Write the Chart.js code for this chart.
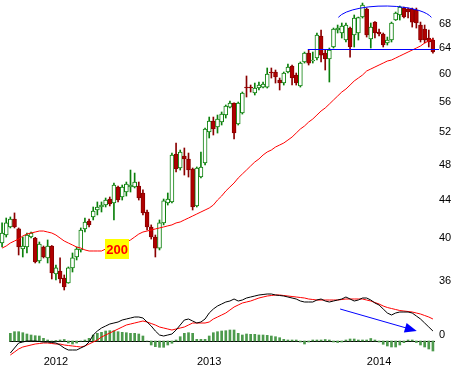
<!DOCTYPE html>
<html>
<head>
<meta charset="utf-8">
<script src="https://cdn.jsdelivr.net/npm/chart.js@4.4.1/dist/chart.umd.min.js"></script>
<style>
html, body { margin: 0; padding: 0; background: #fff; }
canvas { display: block; }
</style>
</head>
<body>
<canvas id="chart" width="453" height="373"></canvas>
<script>
// WEEKLY CANDLES (105 weeks)
const opens = [39.54,40.33,41.14,41.96,40.94,38.96,39.15,40.13,40.03,37.83, 39.15,38.11,39.25,36.63,36.90,36.27,35.83,37.18,38.20,38.87,
    40.94,41.75,42.17,42.90,43.22,43.43,44.08,43.65,45.41,44.30, 44.85,45.41,45.41,45.52,44.74,42.69,41.14,40.13,39.05,41.55,
    43.65,43.76,49.26,47.59,49.02,48.66,47.47,43.33,46.54,48.18, 52.01,53.45,52.66,53.31,54.24,55.32,55.87,53.05,54.51,58.12,
    58.12,57.27,57.98,58.12,58.12,60.32,60.32,59.14,58.70,60.32, 61.22,59.87,58.27,61.83,63.21,61.98,62.44,65.93,63.21,62.29,
    64.16,66.91,66.42,65.28,67.24,66.09,66.42,69.09,70.47,65.44, 68.24,66.58,66.25,64.80,65.28,68.58,69.44,70.64,70.47,70.47,
    70.30,67.74,67.07,65.60,65.28];
const highs = [41.55,42.06,42.17,42.59,41.04,40.13,40.53,40.63,40.10,39.64, 39.25,39.84,39.30,37.45,38.11,36.54,37.27,38.58,39.15,41.04,
    42.06,41.96,43.22,43.76,43.76,44.19,44.30,45.86,45.52,45.63, 45.97,47.35,47.00,45.97,45.08,42.90,41.35,40.33,41.86,44.08,
    44.74,49.38,50.62,49.75,50.00,49.38,47.59,47.71,49.51,52.53, 53.97,53.97,54.24,54.65,55.60,56.15,55.90,56.01,57.41,59.73,
    58.41,58.70,58.85,58.85,60.92,60.92,60.62,59.43,60.32,61.52, 61.37,60.17,61.83,63.37,63.68,63.37,66.42,66.91,63.68,64.00,
    67.24,67.74,68.08,68.08,67.40,69.44,69.09,71.52,70.64,68.08, 68.30,67.07,66.42,65.76,68.24,69.95,70.99,70.82,70.64,70.64,
    70.64,68.24,67.74,66.91,65.60];
const lows = [39.15,40.13,41.04,41.04,38.39,38.20,38.58,40.03,37.64,37.64, 38.11,37.64,36.18,36.09,35.83,35.21,35.80,36.81,37.92,38.67,
    40.63,41.14,41.86,42.38,42.69,43.22,43.33,41.86,43.76,43.97, 44.41,44.85,45.30,43.97,42.38,40.83,39.93,38.20,38.87,41.35,
    43.43,43.65,47.12,47.35,46.77,46.54,42.90,43.22,46.43,47.94, 51.25,51.63,51.88,52.92,53.84,55.19,51.12,52.92,54.37,56.71,
    57.41,56.99,57.70,57.98,57.98,59.43,58.70,57.70,58.41,60.17, 58.41,58.41,58.12,61.67,61.37,61.67,62.13,61.83,60.62,58.85,
    64.00,66.42,65.60,64.96,62.59,64.16,65.28,68.92,65.76,64.00, 65.60,65.93,64.16,64.48,64.96,68.50,68.58,68.92,68.92,67.40,
    67.24,64.96,64.80,64.16,63.21];
const closes = [40.53,41.55,41.96,41.14,39.15,39.25,40.33,40.53,37.73,39.44, 38.20,39.25,36.72,37.18,36.18,35.47,37.18,38.11,38.96,40.83,
    41.65,41.35,42.79,43.22,43.43,43.97,43.54,45.63,43.97,45.41, 45.75,45.63,45.97,44.19,42.59,41.14,40.13,39.05,41.55,43.87,
    44.08,49.14,47.47,49.51,48.66,47.35,43.22,47.59,47.71,52.40, 53.45,52.40,53.71,54.37,55.46,55.87,51.88,55.87,57.27,57.98,
    57.98,57.98,58.41,58.56,60.02,60.17,59.58,58.70,60.17,61.07, 59.43,58.70,61.67,63.21,61.67,62.13,66.09,62.90,62.29,63.68,
    67.07,67.24,67.57,67.74,64.16,68.92,69.00,71.17,66.09,67.40, 66.42,66.25,64.48,65.28,68.08,69.78,70.82,69.09,69.95,68.24,
    68.08,65.28,65.28,64.96,63.37];

// 200 day moving average
const ma200 = [39.05,39.25,39.54,39.74,39.93,40.23,40.43,40.53,40.63,40.73, 40.73,40.63,40.53,40.33,40.03,39.74,39.54,39.35,39.15,39.05,
    38.87,38.77,38.77,38.77,38.77,38.96,39.05,39.15,39.25,39.44, 39.64,39.84,40.13,40.43,40.63,40.73,40.83,40.94,41.04,41.14,
    41.25,41.35,41.55,41.65,41.86,42.06,42.27,42.48,42.69,42.90, 43.11,43.43,43.97,44.41,44.96,45.41,45.86,46.43,46.89,47.35,
    47.83,48.30,48.66,49.14,49.51,49.75,50.12,50.37,50.62,50.99, 51.37,51.88,52.40,52.79,53.31,53.71,54.24,54.78,55.19,55.73,
    56.29,56.85,57.41,57.84,58.41,59.00,59.43,59.87,60.47,60.77, 61.07,61.37,61.67,61.98,62.13,62.44,62.75,63.06,63.37,63.68,
    64.00,64.32,64.80,65.12,65.44];

// MACD panel
const macd = [null,null,-1.2,-0.7,-0.2,-0.1,0,0,0,-0.05, -0.1,-0.1,-0.15,-0.2,-0.4,-0.7,-0.9,-0.9,-0.9,-0.7,
    -0.5,-0.1,0.6,1.0,1.3,1.5,1.7,1.8,1.9,2.1, 2.2,2.3,2.4,2.4,2.3,1.9,1.5,1.0,0.6,0.5,
    0.6,0.7,1.1,1.6,2.1,2.2,2.0,1.8,1.9,2.2, 2.8,3.2,3.5,3.7,3.9,4.0,4.2,4.0,4.1,4.3,
    4.4,4.5,4.6,4.65,4.7,4.7,4.6,4.55,4.5,4.4, 4.3,4.2,4.0,3.9,3.9,3.9,4.1,4.2,4.0,3.9,
    4.0,4.1,4.2,4.4,4.2,4.0,4.1,4.3,4.3,4.1, 3.8,3.6,3.2,2.8,2.6,2.8,2.9,2.9,2.9,2.8,
    2.5,2.2,1.8,1.4,1.0];
const signal = [null,null,-1.4,-1.1,-0.8,-0.6,-0.5,-0.4,-0.3,-0.25, -0.2,-0.2,-0.25,-0.3,-0.3,-0.4,-0.45,-0.5,-0.55,-0.6,
    -0.5,-0.3,-0.1,0.1,0.4,0.6,0.8,1.0,1.2,1.4, 1.6,1.7,1.8,1.9,2.0,1.9,1.75,1.6,1.4,1.3,
    1.2,1.1,1.2,1.3,1.4,1.6,1.8,1.8,1.8,1.8, 1.9,2.2,2.4,2.6,2.8,3.1,3.4,3.6,3.8,3.9,
    4.0,4.15,4.3,4.4,4.5,4.55,4.6,4.6,4.55,4.5, 4.45,4.4,4.35,4.3,4.2,4.15,4.1,4.1,4.1,4.1,
    4.1,4.1,4.15,4.2,4.2,4.2,4.2,4.2,4.1,4.0, 3.85,3.7,3.5,3.35,3.25,3.15,3.05,3.0,2.95,2.9,
    2.8,2.7,2.55,2.4,2.2];
const histogram = [null,null,0.77,0.93,0.93,0.83,0.7,0.6,0.53,0.5, 0.27,0.1,0,0.05,0.1,0.15,-0.2,-0.3,-0.2,0,
    0.1,0.27,0.6,0.77,0.87,1.0,1.03,1.03,0.93,0.87, 0.83,0.77,0.77,0.7,0.5,0,-0.4,-0.57,-0.63,-0.63,
    -0.4,-0.23,0.1,0.43,0.77,0.83,0.77,0.17,0.17,0.17, 0.5,0.83,0.93,1.0,1.03,1.1,1.1,0.77,0.6,0.7,
    0.67,0.67,0.6,0.6,0.57,0.5,0.43,0.33,0.17,0.1, 0.1,0.1,-0.1,-0.3,-0.1,0.1,0.1,0.1,0.15,0.1,
    -0.1,-0.15,-0.1,0.1,0.2,0.2,0.1,0.1,0.1,0.25, 0.1,-0.1,-0.33,-0.5,-0.6,-0.6,-0.4,-0.17,0.1,0.1,
    -0.15,-0.4,-0.6,-0.8,-1.0];

// axis labels
const priceTicks = [36, 40, 44, 48, 52, 56, 60, 64, 68];
const macdTicks = [0];
const yearLabels = ['2012', '2013', '2014'];
const yearWeeks = [13, 50, 91];

// annotations (in data units)
const supportLevel = 63.85;
const supportFrom = 73.8;
const topCentre = [92.4, 68.4];
const topHalfWidth = 11.6;
const topCeiling = 71.0;
const arrowFrom = [81.6, 3.2];
const arrowTo = [100.1, 1.0];
const maLabel = '200';
const maLabelAt = [27.75, 38.96];

const weeks = opens.map((o, i) => 'W' + (i + 1));
const isUp = opens.map((o, i) => closes[i] >= o);

Chart.defaults.font.family = '"Liberation Sans", Arial, sans-serif';
Chart.defaults.font.size = 11;
Chart.defaults.color = '#000';

// no automatic padding round the axes
function noPad(scale) {
    scale.paddingTop = 0;
    scale.paddingBottom = 0;
    scale.paddingLeft = 0;
    scale.paddingRight = 0;
}

const overlay = {
    id: 'overlay',
    afterLayout(chart) {
        // the macd axis has no width of its own, let its label draw over the price axis
        chart.scales.macd.right = chart.width;
    },
    beforeDatasetsDraw(chart) {
        const ctx = chart.ctx, sx = chart.scales.x, sm = chart.scales.macd;
        const y0 = Math.round(sm.getPixelForValue(0)) + 0.5;
        ctx.save();
        ctx.strokeStyle = '#000';
        ctx.lineWidth = 1;
        ctx.beginPath();
        ctx.moveTo(sx.getPixelForValue(2) - 1, y0);
        ctx.lineTo(chart.chartArea.right, y0);
        ctx.stroke();
        ctx.restore();
    },
    afterDatasetsDraw(chart) {
        const ctx = chart.ctx;
        const sx = chart.scales.x, sp = chart.scales.price, sm = chart.scales.macd;
        ctx.save();
        ctx.strokeStyle = '#0000ff';
        ctx.fillStyle = '#0000ff';
        ctx.lineWidth = 1;

        // support line
        const ys = Math.round(sp.getPixelForValue(supportLevel)) + 0.5;
        ctx.beginPath();
        ctx.moveTo(sx.getPixelForValue(supportFrom), ys);
        ctx.lineTo(chart.chartArea.right + 4, ys);
        ctx.stroke();

        // rounded top
        const cx = sx.getPixelForValue(topCentre[0]);
        const cy = sp.getPixelForValue(topCentre[1]);
        const rx = sx.getPixelForValue(topCentre[0] + topHalfWidth) - cx;
        const ry = cy - sp.getPixelForValue(topCeiling);
        ctx.beginPath();
        ctx.ellipse(cx, cy, rx, ry, 0, Math.PI + 0.25, 2 * Math.PI - 0.25);
        ctx.stroke();

        // divergence arrow
        const ax0 = sx.getPixelForValue(arrowFrom[0]), ay0 = sm.getPixelForValue(arrowFrom[1]);
        const ax1 = sx.getPixelForValue(arrowTo[0]), ay1 = sm.getPixelForValue(arrowTo[1]);
        const a = Math.atan2(ay1 - ay0, ax1 - ax0), c = Math.cos(a), s = Math.sin(a);
        ctx.beginPath();
        ctx.moveTo(ax0, ay0);
        ctx.lineTo(ax1 - 10 * c, ay1 - 10 * s);
        ctx.stroke();
        ctx.beginPath();
        ctx.moveTo(ax1, ay1);
        ctx.lineTo(ax1 - 12 * c - 5 * s, ay1 - 12 * s + 5 * c);
        ctx.lineTo(ax1 - 12 * c + 5 * s, ay1 - 12 * s - 5 * c);
        ctx.closePath();
        ctx.fill();

        // MA label
        const lx = sx.getPixelForValue(maLabelAt[0]), ly = sp.getPixelForValue(maLabelAt[1]);
        ctx.fillStyle = '#ffff00';
        ctx.fillRect(Math.round(lx - 12), Math.round(ly - 10), 24, 20);
        ctx.fillStyle = '#ff0000';
        ctx.font = 'bold 13px "Liberation Sans", Arial, sans-serif';
        ctx.textAlign = 'center';
        ctx.textBaseline = 'middle';
        ctx.fillText(maLabel, lx, ly + 1);
        ctx.restore();
    }
};

new Chart(document.getElementById('chart').getContext('2d'), {
    type: 'bar',
    data: {
        labels: weeks,
        datasets: [
            {
                type: 'line',
                data: ma200,
                yAxisID: 'price',
                borderColor: '#ff0000',
                borderWidth: 1,
                pointRadius: 0,
                order: 0,
            },
            {
                data: opens.map((o, i) => [o, closes[i]]),
                yAxisID: 'price',
                grouped: false,
                barThickness: 4,
                minBarLength: 1,
                borderWidth: 1,
                borderSkipped: false,
                backgroundColor: isUp.map(u => u ? '#ffffff' : '#b00000'),
                borderColor: isUp.map(u => u ? '#0b800b' : '#8a0000'),
                order: 1,
            },
            {
                data: lows.map((l, i) => [l, highs[i]]),
                yAxisID: 'price',
                grouped: false,
                barThickness: 1,
                backgroundColor: isUp.map(u => u ? '#0b800b' : '#8a0000'),
                order: 2,
            },
            {
                type: 'line',
                data: macd,
                yAxisID: 'macd',
                borderColor: '#000000',
                borderWidth: 1,
                pointRadius: 0,
                order: 0,
            },
            {
                type: 'line',
                data: signal,
                yAxisID: 'macd',
                borderColor: '#ff0000',
                borderWidth: 1,
                pointRadius: 0,
                order: 0,
            },
            {
                data: histogram,
                yAxisID: 'macd',
                grouped: false,
                barThickness: 2,
                backgroundColor: '#4c9a4c',
                order: 3,
            },
        ],
    },
    options: {
        responsive: false,
        devicePixelRatio: 1,
        animation: false,
        layout: {padding: 0, autoPadding: false},
        plugins: {legend: {display: false}, tooltip: {enabled: false}},
        scales: {
            x: {
                type: 'category',
                offset: true,
                grid: {display: false, drawTicks: false},
                border: {display: false},
                ticks: {
                    autoSkip: false,
                    maxRotation: 0,
                    padding: -2,
                    callback: (v, i) => {
                        const k = yearWeeks.indexOf(i);
                        return k >= 0 ? yearLabels[k] : '';
                    },
                },
                afterFit: (scale) => { scale.height = 16; noPad(scale); },
            },
            price: {
                type: 'logarithmic',
                position: 'right',
                weight: 1,
                min: 29.84,
                max: 72.06,
                grid: {display: false, drawTicks: false},
                border: {display: false},
                ticks: {padding: 4, callback: (v) => String(v)},
                afterBuildTicks: (scale) => { scale.ticks = priceTicks.map(v => ({value: v})); },
                afterFit: (scale) => { scale.width = 18; noPad(scale); },
            },
            macd: {
                type: 'linear',
                position: 'right',
                weight: 0,
                min: -1.6,
                max: 34.1,
                grid: {display: false, drawTicks: false},
                border: {display: false},
                ticks: {padding: 4, labelOffset: -6, callback: (v) => String(v)},
                afterBuildTicks: (scale) => { scale.ticks = macdTicks.map(v => ({value: v})); },
                afterFit: (scale) => { scale.width = 0; noPad(scale); },
            },
        },
    },
    plugins: [overlay],
});
</script>
</body>
</html>
